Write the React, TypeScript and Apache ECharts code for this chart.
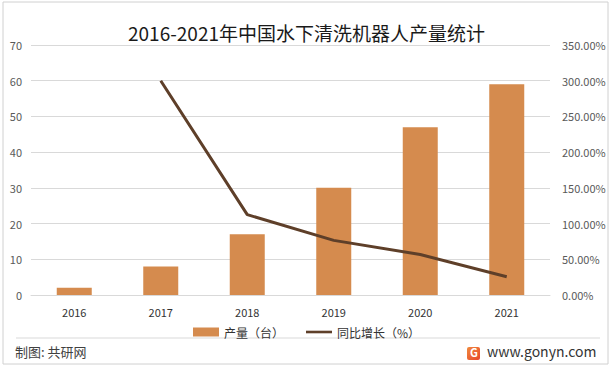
import React, { useEffect, useRef } from "react";
import * as echarts from "echarts";

const categories = ["2016", "2017", "2018", "2019", "2020", "2021"];
const production = [2, 8, 17, 30, 47, 59];
const growth: (number | null)[] = [null, 300, 112.5, 76.47, 56.67, 25.53];
const leftTicks = { min: 0, max: 70, interval: 10 };
const rightTicks = { min: 0, max: 350, interval: 50 };

const FONT = "'Noto Sans CJK SC', 'Noto Sans', sans-serif";

export default function App() {
  const ref = useRef<HTMLDivElement>(null);
  useEffect(() => {
    if (!ref.current) return;
    const chart = echarts.init(ref.current, undefined, { renderer: "svg" });
    chart.setOption({
      animation: false,
      backgroundColor: "#ffffff",
      textStyle: { fontFamily: FONT },
      title: {
        text: "2016-2021年中国水下清洗机器人产量统计",
        left: "center",
        top: 18,
        textStyle: { fontSize: 19, fontWeight: "normal", color: "#1a1a1a", fontFamily: FONT },
      },
      grid: { left: 31, right: 63, top: 45, bottom: 75 },
      legend: {
        top: 321,
        left: "center",
        itemWidth: 26,
        itemHeight: 9,
        itemGap: 22,
        textStyle: { fontSize: 12, color: "#333333", fontFamily: FONT },
        data: [
          { name: "产量（台）", icon: "rect" },
          { name: "同比增长（%）", icon: "path://M0,0H30V3H0Z", itemStyle: { color: "#5e3f29" } },
        ],
      },
      xAxis: {
        type: "category",
        data: categories,
        axisLine: { lineStyle: { color: "#d9d9d9" } },
        axisTick: { show: false },
        axisLabel: { color: "#333333", fontSize: 11, margin: 11 },
      },
      yAxis: [
        {
          type: "value",
          min: leftTicks.min,
          max: leftTicks.max,
          interval: leftTicks.interval,
          axisLine: { show: false },
          axisTick: { show: false },
          axisLabel: { color: "#595959", fontSize: 11, margin: 9 },
          splitLine: { lineStyle: { color: "#d9d9d9" } },
        },
        {
          type: "value",
          min: rightTicks.min,
          max: rightTicks.max,
          interval: rightTicks.interval,
          axisLine: { show: false },
          axisTick: { show: false },
          axisLabel: {
            color: "#595959",
            fontSize: 11,
            margin: 12,
            formatter: (v: number) => v.toFixed(2) + "%",
          },
          splitLine: { show: false },
        },
      ],
      series: [
        {
          name: "产量（台）",
          type: "bar",
          data: production,
          barWidth: 35,
          itemStyle: { color: "#d58b4e" },
        },
        {
          name: "同比增长（%）",
          type: "line",
          yAxisIndex: 1,
          data: growth,
          symbol: "none",
          showSymbol: false,
          lineStyle: { color: "#5e3f29", width: 3 },
          itemStyle: { color: "#5e3f29" },
        },
      ],
      graphic: [
        {
          type: "rect",
          shape: { x: 3, y: 2, width: 605, height: 362 },
          style: { fill: "none", stroke: "#d0d0d0", lineWidth: 1 },
          silent: true,
        },
        {
          type: "line",
          shape: { x1: 16, y1: 338, x2: 600, y2: 338 },
          style: { stroke: "#d9d9d9", lineWidth: 1 },
          silent: true,
        },
        {
          type: "text",
          left: 15,
          top: 345,
          style: { text: "制图: 共研网", fontSize: 13, fill: "#404040", fontFamily: FONT },
        },
        {
          type: "rect",
          shape: { x: 467, y: 347, width: 13, height: 13, r: 2 },
          style: {
            fill: new echarts.graphic.LinearGradient(0, 0, 1, 1, [
              { offset: 0, color: "#f08a3c" },
              { offset: 1, color: "#e8452c" },
            ]),
          },
        },
        {
          type: "text",
          left: 470,
          top: 346,
          style: { text: "G", fontSize: 11, fontWeight: "bold", fill: "#ffffff", fontFamily: FONT },
        },
        {
          type: "text",
          left: 487,
          top: 344,
          style: { text: "www.gonyn.com", fontSize: 14, fill: "#333333", fontFamily: FONT },
        },
      ],
    });
    return () => chart.dispose();
  }, []);
  return (
    <div
      ref={ref}
      style={{ position: "fixed", left: 0, top: 0, width: 613, height: 370 }}
    />
  );
}
